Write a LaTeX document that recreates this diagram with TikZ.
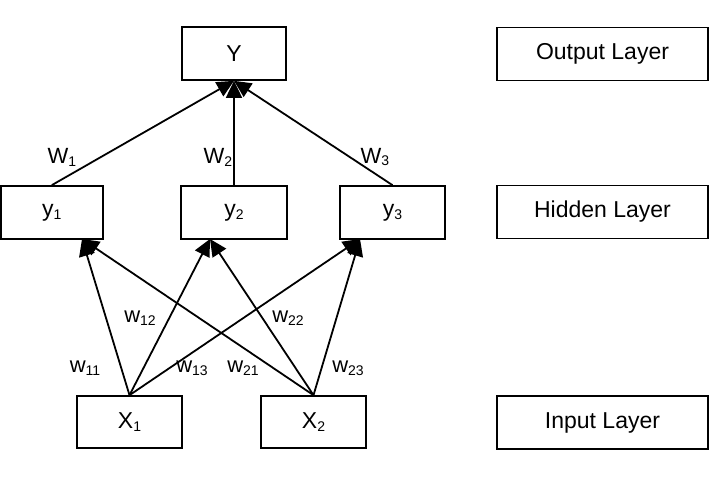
\documentclass[tikz,border=0pt]{standalone}
\usepackage{fontspec}
\setmainfont{Liberation Sans}
\usetikzlibrary{arrows.meta}
\newcommand{\sbs}[1]{\raisebox{-0.25ex}{\fontsize{14}{14}\selectfont #1}}
\begin{document}
\begin{tikzpicture}[x=1pt,y=-1pt,
  box/.style={draw,line width=1.7pt,inner sep=0pt,minimum width=105pt,minimum height=53pt,font=\fontsize{23}{23}\selectfont},
  lbox/.style={box,minimum width=211pt},
  wlab/.style={inner sep=0pt,font=\fontsize{22}{22}\selectfont},
  conn/.style={line width=1.8pt},
  arr/.style={conn,-{Triangle[length=17pt,width=16pt]}}]
\useasboundingbox (0,0) rectangle (718,477);
\node[box,minimum width=104pt] (Y) at (234,53.5) {Y};
\node[lbox] (OL) at (602.5,54) {Output Layer};
\node[lbox] (HL) at (602.5,212) {Hidden Layer};
\node[lbox] (IL) at (602.5,422.5) {Input Layer};
\node[box,minimum width=102pt] (y1) at (51.8,212.5) {y\sbs{1}};
\node[box,minimum width=106pt] (y2) at (234,212.5) {y\sbs{2}};
\node[box] (y3) at (392.5,212.5) {y\sbs{3}};
\node[box,minimum height=52pt] (X1) at (129.5,422) {X\sbs{1}};
\node[box,minimum height=52pt] (X2) at (313.5,422) {X\sbs{2}};
\coordinate (t1) at (82,239);
\coordinate (t2) at (210,239);
\coordinate (t3) at (360,239);
\draw[arr] (y1.north) -- (Y.south);
\draw[arr] (y2.north) -- (Y.south);
\draw[arr] (y3.north) -- (Y.south);
\draw[arr] (X1.north) -- (t1);
\draw[arr] (X1.north) -- (t2);
\draw[arr] (X1.north) -- (t3);
\draw[arr] (X2.north) -- (t1);
\draw[arr] (X2.north) -- (t2);
\draw[arr] (X2.north) -- (t3);
\node[wlab] (W1) at (62,157) {W\sbs{1}};
\node[wlab] (W2) at (218,157) {W\sbs{2}};
\node[wlab] (W3) at (375,157) {W\sbs{3}};
\node[wlab] (w11) at (85,368) {w\sbs{11}};
\node[wlab] (w12) at (140,318) {w\sbs{12}};
\node[wlab] (w13) at (192,368) {w\sbs{13}};
\node[wlab] (w21) at (243,368) {w\sbs{21}};
\node[wlab] (w22) at (288,318) {w\sbs{22}};
\node[wlab] (w23) at (348,368) {w\sbs{23}};
\end{tikzpicture}
\end{document}
